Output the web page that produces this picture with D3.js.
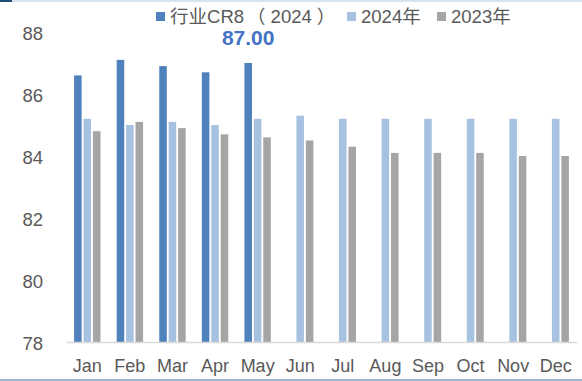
<!DOCTYPE html>
<html>
<head>
<meta charset="utf-8">
<script src="https://cdn.jsdelivr.net/npm/d3@7"></script>
<style>
  html, body { margin: 0; padding: 0; background: #fff; }
  svg { display: block; font-family: "Liberation Sans", Arial, "Noto Sans CJK SC", sans-serif; }
</style>
</head>
<body>
<svg id="chart" width="582" height="381"></svg>
<script>
const months = ["Jan","Feb","Mar","Apr","May","Jun","Jul","Aug","Sep","Oct","Nov","Dec"];
const seriesNames = ["行业CR8（2024）", "2024年", "2023年"];
const cr8_2024 = [86.6, 87.1, 86.9, 86.7, 87.0, null, null, null, null, null, null, null];
const v2024 = [85.2, 85.0, 85.1, 85.0, 85.2, 85.3, 85.2, 85.2, 85.2, 85.2, 85.2, 85.2];
const v2023 = [84.8, 85.1, 84.9, 84.7, 84.6, 84.5, 84.3, 84.1, 84.1, 84.1, 84.0, 84.0];
const yTicks = [78, 80, 82, 84, 86, 88];
const labelMonth = "May";

const colors = ["#4F81BD", "#A7C2E0", "#A5A5A5"];
const seriesData = [cr8_2024, v2024, v2023];

const svg = d3.select("#chart");

// frame lines
svg.append("rect").attr("x", 0).attr("y", 0).attr("width", 582).attr("height", 2).attr("fill", "#D6E4F0");
svg.append("rect").attr("x", 0).attr("y", 0).attr("width", 12).attr("height", 2).attr("fill", "#1F4E79");
svg.append("rect").attr("x", 0).attr("y", 379).attr("width", 582).attr("height", 2).attr("fill", "#9FB7CE");

const x0 = d3.scaleBand().domain(months).range([66, 577]).paddingInner(0.38).paddingOuter(0.19);
const x1 = d3.scaleBand().domain(d3.range(3)).range([0, x0.bandwidth()]).paddingInner(0.2);
const y = d3.scaleLinear().domain([78, 88]).range([342, 32]);

// bars
seriesData.forEach((arr, si) => {
  svg.append("g").selectAll("rect")
    .data(months.map((m, i) => ({ m, v: arr[i] })).filter(d => d.v != null))
    .join("rect")
    .attr("x", d => x0(d.m) + x1(si))
    .attr("width", x1.bandwidth())
    .attr("y", d => y(d.v))
    .attr("height", d => y(78) - y(d.v))
    .attr("fill", colors[si]);
});

// x axis
const xAxis = d3.axisBottom(x0).tickSize(0).tickPadding(0);
const gx = svg.append("g").attr("transform", `translate(0,${y(78)})`).call(xAxis);
gx.select(".domain").attr("stroke", "#D9D9D9").attr("stroke-width", 1.5);
gx.selectAll("text").attr("font-size", 18).attr("fill", "#595959")
  .attr("font-family", "Liberation Sans, Arial, sans-serif")
  .attr("dy", null).attr("y", 30);

// y axis labels
const yAxis = d3.axisLeft(y).tickValues(yTicks).tickSize(0).tickPadding(0).tickFormat(d3.format("d"));
const gy = svg.append("g").attr("transform", "translate(43,0)").call(yAxis);
gy.select(".domain").remove();
gy.selectAll("text").attr("font-size", 18.5).attr("fill", "#595959")
  .attr("font-family", "Liberation Sans, Arial, sans-serif")
  .attr("dy", "0.38em").attr("x", 0);

// data label
const li = months.indexOf(labelMonth);
svg.append("text")
  .attr("x", x0(labelMonth) + x1(0) + x1.bandwidth() / 2)
  .attr("y", 45)
  .attr("text-anchor", "middle")
  .attr("font-size", 21).attr("font-weight", "bold")
  .attr("fill", "#4472C4")
  .text(d3.format(".2f")(cr8_2024[li]));

// legend
const legendX = [156, 347, 437];
const cjk = /[\u3000-\u9fff\uff00-\uffef]/;
const lg = svg.append("g");
seriesNames.forEach((name, i) => {
  lg.append("rect").attr("x", legendX[i]).attr("y", 12).attr("width", 9).attr("height", 9).attr("fill", colors[i]);
  const t = lg.append("text").attr("x", legendX[i] + 14).attr("y", 23)
    .attr("font-size", 18.5).attr("fill", "#595959");
  const chars = Array.from(name);
  chars.forEach((ch, k) => {
    let dx = 0;
    if (ch === "（") dx = 3;
    else if (k > 0 && chars[k - 1] === "（") dx = 5;
    else if (ch === "）") dx = 5;
    t.append("tspan")
      .attr("font-family", cjk.test(ch) ? "Noto Sans CJK SC" : "Liberation Sans, Arial, sans-serif")
      .attr("dx", dx || null)
      .text(ch);
  });
});
</script>
</body>
</html>
